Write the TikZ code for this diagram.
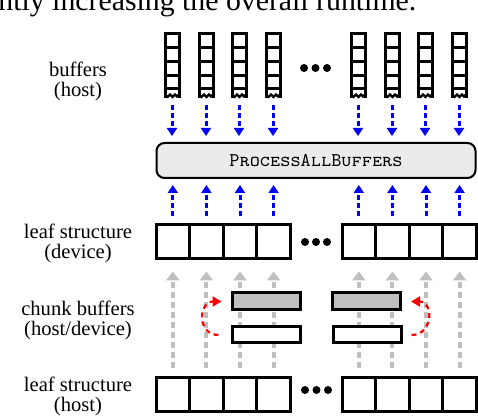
\documentclass[tikz,border=0pt]{standalone}
\usepackage{fontspec}
\newfontfamily\tnr{Liberation Serif}
\usetikzlibrary{arrows.meta}
\begin{document}
\begin{tikzpicture}[x=0.5pt,y=-0.5pt,
  lbl/.style={font=\tnr\fontsize{10.3}{10}\selectfont, align=center, inner sep=0pt},
  bufbox/.style={minimum width=7pt, minimum height=32pt, inner sep=0pt},
  bufline/.style={line width=1.5pt},
  cell/.style={draw, line width=1.5pt, minimum width=16.8pt, minimum height=17pt, inner sep=0pt},
  pabox/.style={draw, line width=1pt, rounded corners=4pt, fill=black!8, minimum width=159.5pt, minimum height=17.5pt, inner sep=0pt, font=\ttfamily\scshape\fontsize{9.7}{10}\selectfont},
  bluearr/.style={blue, line width=1.5pt, dash pattern=on 2.5pt off 1.5pt, -{Triangle[length=4pt,width=5pt]}, shorten <=3.5pt, shorten >=3pt},
  grayarr/.style={black!25, line width=2pt, dash pattern=on 3pt off 2pt, -{Triangle[length=4.5pt,width=6.5pt]}, shorten <=4pt, shorten >=5.5pt},
  chunkg/.style={draw, line width=1.5pt, fill=black!25, minimum width=34pt, minimum height=8.5pt, inner sep=0pt},
  chunkw/.style={draw, line width=1.5pt, fill=white, minimum width=34pt, minimum height=8pt, inner sep=0pt},
  redarr/.style={red, line width=1.1pt, dash pattern=on 2.5pt off 2pt, -{Triangle[length=4.5pt,width=5pt]}},
  dot/.style={circle, fill, inner sep=0pt, minimum size=4pt}
]
\useasboundingbox (0,0) rectangle (478,416);

% cut-off caption line
\node[anchor=base west, inner sep=0pt, font=\tnr\fontsize{14.9}{16}\selectfont] (cap) at (-2,10.5) {ntly increasing the overall runtime.};

% labels
\node[lbl] (lbuf) at (78,81.5) {buffers\\(host)};
\node[lbl] (ldev) at (78,243.5) {leaf structure\\(device)};
\node[lbl] (lchunk) at (78,320) {chunk buffers\\(host/device)};
\node[lbl] (lhost) at (78,396) {leaf structure\\(host)};

% buffers (host)
\foreach \i/\x in {1/172,2/206,3/239,4/273,5/358,6/392,7/425,8/459}{
  \node[bufbox] (b\i) at (\x,66) {};
  \begin{scope}[shift={(b\i.center)}]
    \draw[bufline] (-7,32) -- (-7,-32) -- (7,-32) -- (7,32);
    \draw[bufline] (-7,-18) -- (7,-18);
    \draw[bufline] (-7,-4) -- (7,-4);
    \draw[bufline] (-7,10) -- (7,10);
    \draw[bufline] (-7,23) -- (7,23);
    \draw[line width=1.1pt] (-7,29) -- (-4.5,31) -- (-2,28.5) -- (0.5,31) -- (3,28.5) -- (5,30.5) -- (7,28.5);
  \end{scope}
}
\node[dot] (td1) at (304,68) {};
\node[dot] (td2) at (315.5,68) {};
\node[dot] (td3) at (327,68) {};

% ProcessAllBuffers
\node[pabox] (pab) at (316,160.5) {ProcessAllBuffers};

% leaf structure (device) and (host)
\foreach \i/\x in {1/172.8,2/206.4,3/240,4/273.6,5/358.8,6/392.4,7/426,8/459.6}{
  \node[cell] (d\i) at (\x,242) {};
  \node[cell] (h\i) at (\x,394.5) {};
}
\node[dot] (dd1) at (305,242) {};
\node[dot] (dd2) at (316,242) {};
\node[dot] (dd3) at (327,242) {};
\node[dot] (hd1) at (305,390) {};
\node[dot] (hd2) at (316.5,390) {};
\node[dot] (hd3) at (328,390) {};

% blue and gray arrows
\foreach \i in {1,...,8}{
  \draw[bluearr] (b\i.south) -- (b\i.south |- pab.north);
  \draw[bluearr] (d\i.north) -- (d\i.north |- pab.south);
  \draw[grayarr] (h\i.north) -- (d\i.south);
}

% chunk buffers
\node[chunkg] (cg1) at (266,301.5) {};
\node[chunkg] (cg2) at (366.5,301.5) {};
\node[chunkw] (cw1) at (266,335) {};
\node[chunkw] (cw2) at (367,335) {};

\draw[redarr] ([xshift=-6pt]cw1.west) .. controls +(-11pt,0) and +(-11.5pt,0) .. ([xshift=-4.5pt]cg1.west);
\draw[redarr] ([xshift=4.5pt]cw2.east) .. controls +(11pt,0) and +(11.5pt,0) .. ([xshift=4.5pt]cg2.east);
\end{tikzpicture}
\end{document}
